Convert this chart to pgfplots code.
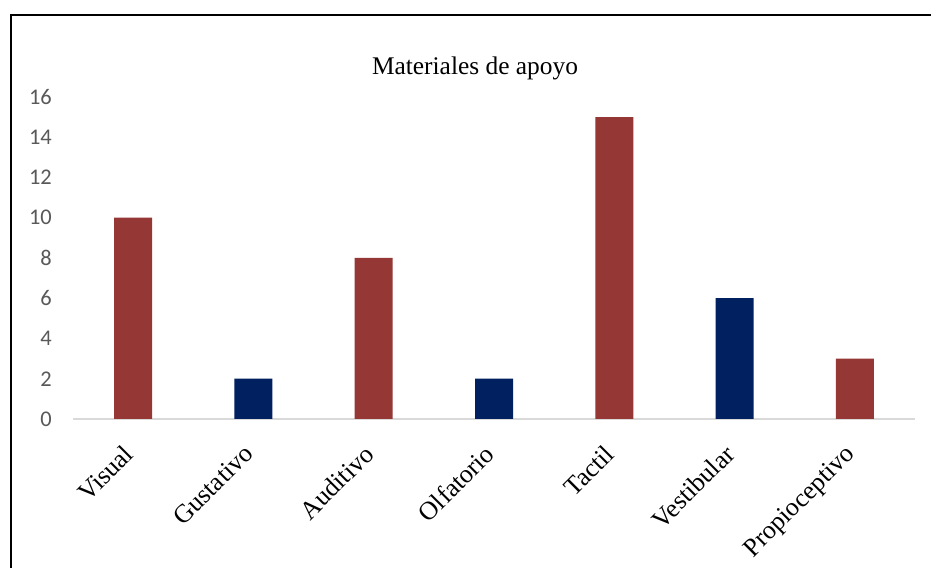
\documentclass[border=0pt]{standalone}
\usepackage{pgfplots}
\pgfplotsset{compat=1.18}
\usepackage{fontspec}
\setmainfont{Liberation Serif}
\newfontfamily\calibri{Carlito}
\definecolor{barred}{HTML}{953735}
\definecolor{barnavy}{HTML}{002060}
\definecolor{ticktext}{HTML}{595959}
\definecolor{axisgray}{HTML}{D9D9D9}

\begin{document}
\begin{tikzpicture}[x=1bp,y=1bp]
\useasboundingbox (0,0) rectangle (931,568);
\fill[white] (0,0) rectangle (931,568);
% chart frame, running off the page at the bottom and right
\draw[line width=2bp] (11,-20) -- (11,553) -- (960,553);
\node[anchor=base, font=\fontsize{25.5}{30}\selectfont] at (475,493) {Materiales de apoyo};
\begin{axis}[
  at={(73bp,149bp)}, anchor=south west, scale only axis,
  width=842bp, height=322bp,
  xmin=-0.5, xmax=6.5, ymin=0, ymax=16,
  ytick={0,2,...,16},
  xtick={0,...,6},
  xticklabels={Visual,Gustativo,Auditivo,Olfatorio,Tactil,Vestibular,Propioceptivo},
  axis x line=bottom, axis y line=left,
  x axis line style={-, draw=axisgray, line width=1.5bp},
  y axis line style={draw=none},
  tick style={draw=none}, major tick length=0pt,
  /pgf/number format/assume math mode=true,
  yticklabel style={font=\calibri\fontsize{22.5}{27}\selectfont, text=ticktext,
    anchor=east, inner sep=0pt, xshift=-21bp},
  xticklabel style={font=\fontsize{26}{30}\selectfont,
    xshift=-11bp, yshift=-24bp, rotate=45,
    anchor=north east, inner sep=0pt},
  clip=false,
]
\addplot[ybar, bar width=38bp, bar shift=0pt, fill=barred, draw=none]
  coordinates {(0,10) (2,8) (4,15) (6,3)};
\addplot[ybar, bar width=38bp, bar shift=0pt, fill=barnavy, draw=none]
  coordinates {(1,2) (3,2) (5,6)};
\end{axis}
\end{tikzpicture}
\end{document}
